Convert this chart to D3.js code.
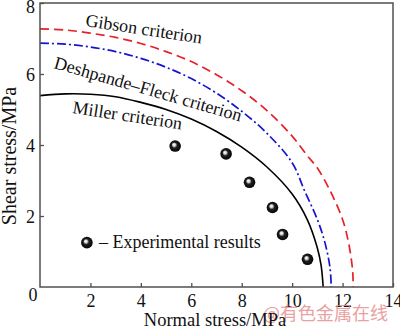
<!DOCTYPE html>
<html>
<head>
<meta charset="utf-8">
<script src="https://cdn.jsdelivr.net/npm/d3@7"></script>
<style>
  html, body { margin: 0; padding: 0; background: #fff; }
  svg text { font-family: "Liberation Serif", "Times New Roman", serif; fill: #111; }
</style>
</head>
<body>
<svg id="chart" width="400" height="330"></svg>
<script>
// Failure envelopes in the normal–shear stress plane, [normal, shear] in MPa
const gibsonCurve = [[0,7.27],[1,7.24],[2,7.15],[3,7.03],[4,6.86],[5,6.63],[6,6.35],[7,5.98],[8,5.53],[9,4.97],[10,4.25],[10.6,3.7],[11,3.35],[11.5,2.72],[12,1.9],[12.25,1.2],[12.4,0.45],[12.42,0]];
const deshpandeFleckCurve = [[0,6.87],[1,6.84],[2,6.76],[3,6.63],[4,6.44],[5,6.19],[6,5.87],[7,5.46],[8,4.95],[9,4.33],[10,3.5],[10.5,2.7],[11,1.9],[11.3,1.25],[11.5,0.55],[11.55,0]];
const millerCurve = [[0,5.39],[1,5.44],[2,5.43],[3,5.36],[4,5.2],[5,5.0],[6,4.73],[7,4.38],[8,3.94],[9,3.38],[10,2.62],[10.6,1.9],[11,1.1],[11.15,0.6],[11.23,0]];

// Measured failure points
const experimentalNormal = [5.36, 7.38, 8.31, 9.22, 9.62, 10.61];
const experimentalShear  = [3.97, 3.75, 2.95, 2.24, 1.48, 0.78];

// Axis ticks
const xTicks = [2, 4, 6, 8, 10, 12, 14];
const yTicks = [2, 4, 6, 8];
const originLabel = "0";

const curveNames = ["Gibson criterion", "Deshpande–Fleck criterion", "Miller criterion"];
const legendPoint = [1.86, 1.25];
const legendText = "– Experimental results";

const svg = d3.select("#chart");
const plotLeft = 40, plotRight = 393, plotTop = 3, plotBottom = 287;

const x = d3.scaleLinear().domain([0, 14]).range([plotLeft, plotRight]);
const y = d3.scaleLinear().domain([0, 8]).range([plotBottom, plotTop]);

const axisColor = "#505050";

// Marker shading: glossy black sphere
const defs = svg.append("defs");
const grad = defs.append("radialGradient")
  .attr("id", "ball").attr("cx", "50%").attr("cy", "50%").attr("r", "55%")
  .attr("fx", "38%").attr("fy", "36%");
grad.append("stop").attr("offset", "0%").attr("stop-color", "#ffffff");
grad.append("stop").attr("offset", "22%").attr("stop-color", "#d8d8d8");
grad.append("stop").attr("offset", "45%").attr("stop-color", "#202020");
grad.append("stop").attr("offset", "100%").attr("stop-color", "#000000");

// Curves
const line = d3.line()
  .x(d => x(d[0]))
  .y(d => y(d[1]))
  .curve(d3.curveCatmullRom.alpha(0.5));

svg.append("path").datum(gibsonCurve)
  .attr("d", line).attr("fill", "none")
  .attr("stroke", "#e8202a").attr("stroke-width", 1.7)
  .attr("stroke-dasharray", "9,5");

svg.append("path").datum(deshpandeFleckCurve)
  .attr("d", line).attr("fill", "none")
  .attr("stroke", "#1515d0").attr("stroke-width", 1.7)
  .attr("stroke-dasharray", "9,3,2,3");

svg.append("path").datum(millerCurve)
  .attr("d", line).attr("fill", "none")
  .attr("stroke", "#000").attr("stroke-width", 1.6);

// Axes with inward ticks
const xAxis = d3.axisBottom(x).tickValues(xTicks).tickSizeInner(-4).tickSizeOuter(0).tickPadding(8);
const yAxis = d3.axisLeft(y).tickValues(yTicks).tickSizeInner(-4).tickSizeOuter(0).tickPadding(5);

const gx = svg.append("g").attr("transform", `translate(0,${plotBottom})`).call(xAxis);
const gy = svg.append("g").attr("transform", `translate(${plotLeft},0)`).call(yAxis);
[gx, gy].forEach(g => {
  g.select(".domain").remove();
  g.selectAll(".tick line").attr("stroke", axisColor).attr("stroke-width", 1.3);
  g.selectAll(".tick text").attr("font-size", 18).attr("fill", "#111")
    .attr("font-family", '"Liberation Serif", "Times New Roman", serif');
});
gx.selectAll(".tick text").attr("dy", "0.68em");
// the top label sits a little lower so it stays inside the page
gy.selectAll(".tick text").attr("dy", d => d === 8 ? "0.52em" : "0.34em");

// Shared origin label
svg.append("text").attr("x", x(0) - 7).attr("y", y(0) + 14)
  .attr("text-anchor", "middle").attr("font-size", 18).text(originLabel);

// Frame
svg.append("rect")
  .attr("x", plotLeft).attr("y", plotTop)
  .attr("width", plotRight - plotLeft).attr("height", plotBottom - plotTop)
  .attr("fill", "none").attr("stroke", axisColor).attr("stroke-width", 1.5);

// Curve labels
const labelPos = [
  { x: 85, y: 26, a: 8.6 },
  { x: 53, y: 68, a: 16 },
  { x: 72, y: 113, a: 8.6 }
];
curveNames.forEach((name, i) => {
  const p = labelPos[i];
  svg.append("text")
    .attr("transform", `translate(${p.x},${p.y}) rotate(${p.a})`)
    .attr("font-size", 18).text(name);
});

// Experimental points
const pts = experimentalNormal.map((v, i) => [v, experimentalShear[i]]);
svg.append("g").selectAll("circle").data(pts).join("circle")
  .attr("cx", d => x(d[0])).attr("cy", d => y(d[1]))
  .attr("r", 5.8).attr("fill", "url(#ball)");

// Legend
svg.append("circle")
  .attr("cx", x(legendPoint[0])).attr("cy", y(legendPoint[1]))
  .attr("r", 5.8).attr("fill", "url(#ball)");
svg.append("text")
  .attr("x", x(legendPoint[0]) + 12).attr("y", y(legendPoint[1]) + 5)
  .attr("font-size", 18).text(legendText);

// Source mark (drawn under the axis title)
svg.append("text")
  .attr("x", 263).attr("y", 320)
  .attr("font-size", 18)
  .style("font-family", '"Noto Sans CJK SC", sans-serif')
  .style("fill", "#e58a8a").attr("opacity", 0.8)
  .text("@有色金属在线");

// Axis titles
svg.append("text")
  .attr("x", 215).attr("y", 326)
  .attr("text-anchor", "middle").attr("font-size", 18.5)
  .text("Normal stress/MPa");
svg.append("text")
  .attr("transform", `translate(16,156) rotate(-90)`)
  .attr("text-anchor", "middle").attr("font-size", 20)
  .text("Shear stress/MPa");
</script>
</body>
</html>
